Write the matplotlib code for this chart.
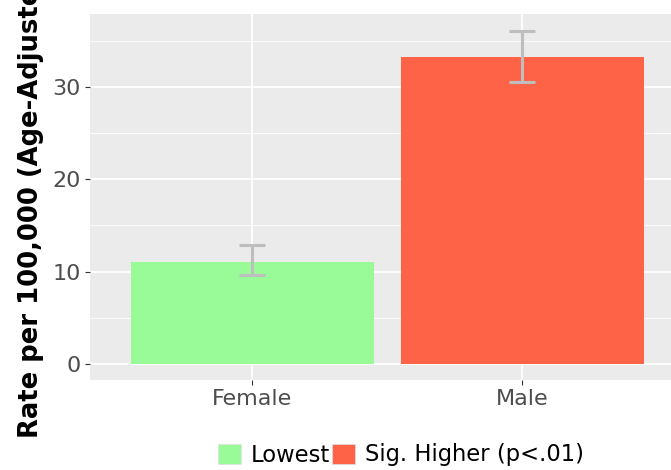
import matplotlib
matplotlib.use('Agg')
import matplotlib.pyplot as plt
from matplotlib.patches import Patch

# data
groups = ['Female', 'Male']
rates = [11.1, 33.2]
lower = [9.6, 30.5]
upper = [12.9, 36.1]
bar_colors = ['#98FB98', '#FF6347']
legend_labels = ['Lowest', 'Sig. Higher (p<.01)']

fig = plt.figure(figsize=(6.71, 4.70), dpi=100)
ax = fig.add_axes([90/671, 1-380/470, (684-90)/671, (380-14)/470])
ax.set_facecolor('#EBEBEB')

x = [1, 2]
ax.bar(x, rates, width=0.9, color=bar_colors, zorder=2)

# error bars
err_lo = [r - l for r, l in zip(rates, lower)]
err_hi = [u - r for r, u in zip(rates, upper)]
ax.errorbar(x, rates, yerr=[err_lo, err_hi], fmt='none', ecolor='#BEBEBE',
            elinewidth=2.2, capsize=9.5, capthick=2.2, zorder=3)

ax.set_xlim(0.4, 2.6)
ax.set_ylim(-1.73, 37.9)
ax.set_xticks(x)
ax.set_xticklabels(groups)
ax.set_yticks([0, 10, 20, 30])
ax.set_yticks([5, 15, 25, 35], minor=True)

ax.grid(True, which='major', color='white', linewidth=1.3, zorder=0)
ax.grid(True, which='minor', axis='y', color='white', linewidth=0.6, zorder=0)
ax.set_axisbelow(True)
for s in ax.spines.values():
    s.set_visible(False)

ax.tick_params(axis='both', which='major', labelsize=16, labelcolor='#4D4D4D',
               color='#333333', length=3.5, width=0.8, pad=3)
ax.tick_params(axis='both', which='minor', length=0)

# y label runs off the top edge, as in the reference
fig.text(31/671, 1-438/470, 'Rate per 100,000 (Age-Adjusted)', rotation=90,
         ha='center', va='bottom', fontsize=18.6, fontweight='bold', color='black')

handles = [Patch(facecolor=c, edgecolor='#E0E0E0', linewidth=0.5) for c in bar_colors]
fig.legend(handles, legend_labels, loc='center', bbox_to_anchor=(401/671, 1-455/470),
           ncol=2, frameon=False, fontsize=16.3, handlelength=1.0, handleheight=1.0,
           handletextpad=0.45, columnspacing=0.1, borderpad=0)

fig.savefig('out.png', dpi=100)
